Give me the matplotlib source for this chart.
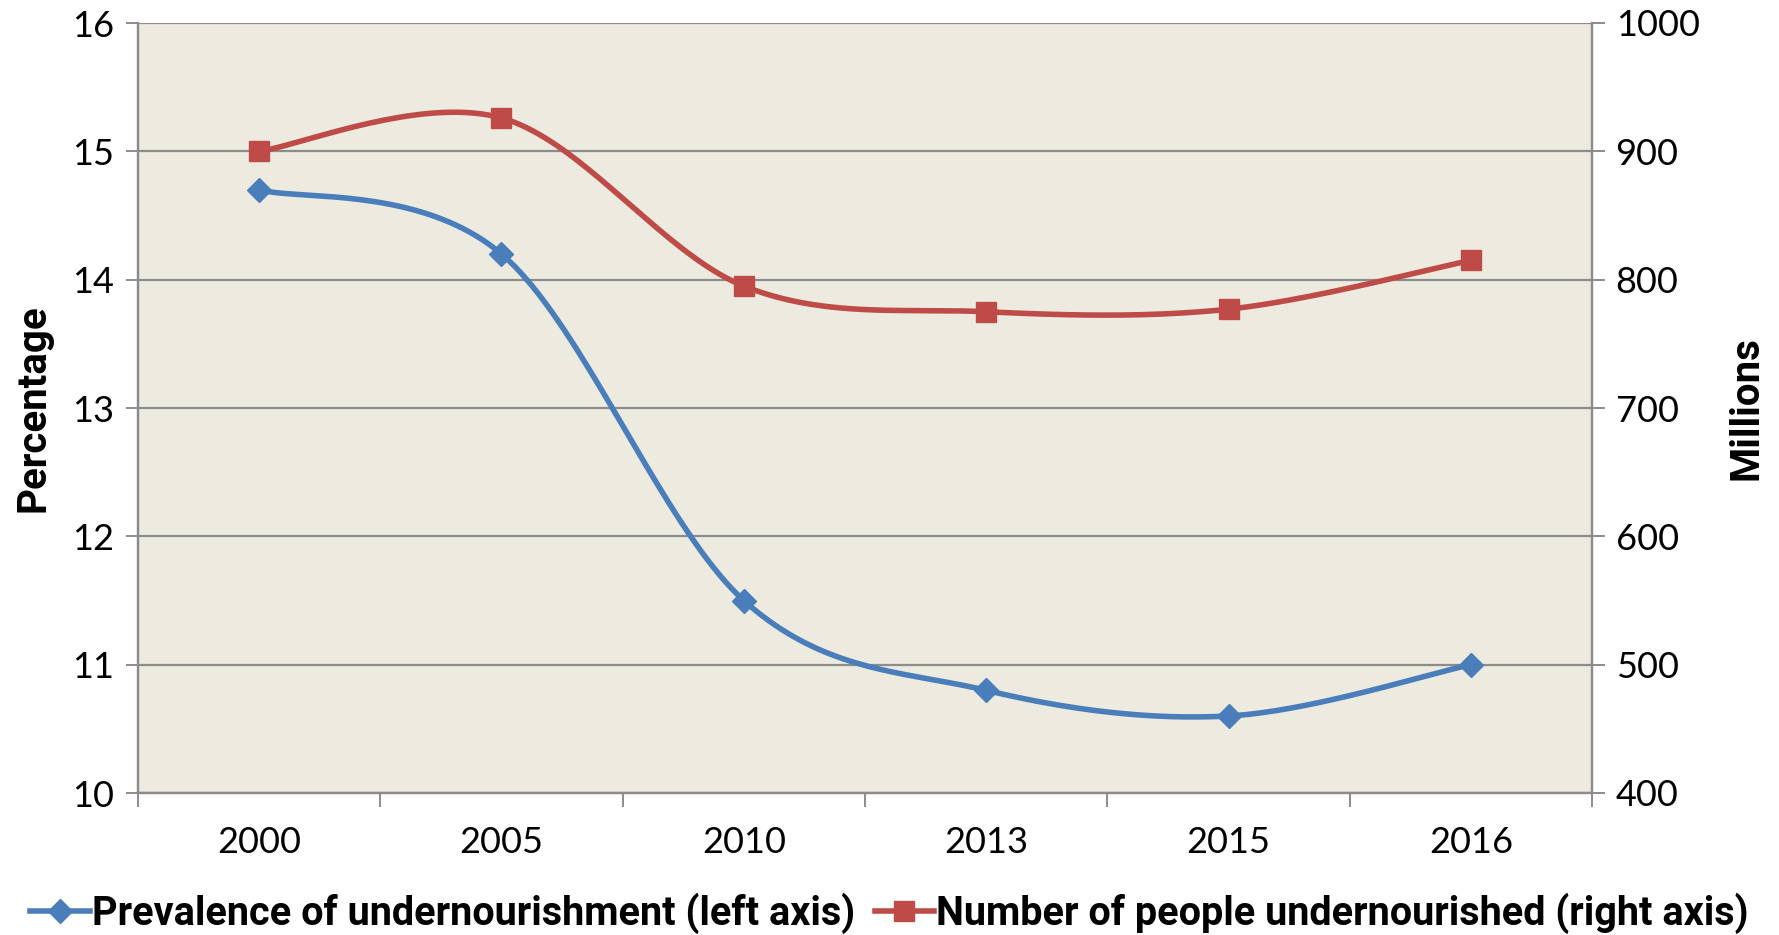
import numpy as np
import matplotlib
matplotlib.use("Agg")
import matplotlib.pyplot as plt
from matplotlib.lines import Line2D

years = ["2000", "2005", "2010", "2013", "2015", "2016"]
prevalence = [14.7, 14.2, 11.5, 10.8, 10.6, 11.0]
undernourished = [900, 926, 795, 775, 777, 815]

blue = "#4A7EBB"
red = "#BE4B48"
grid_col = "#8C8C8C"
bg = "#EDEAE0"

plt.rcParams["font.family"] = ["Lato", "DejaVu Sans"]
bold_font = {"family": ["Roboto", "DejaVu Sans"], "weight": "bold"}


def smooth(xs, ys, n=40):
    # cubic bezier through the points, tangents from neighbours (Excel-like smoothing)
    p = np.column_stack((xs, ys)).astype(float)
    p = np.vstack((p[:1], p, p[-1:]))
    out = []
    for i in range(1, len(p) - 2):
        p0, p3 = p[i], p[i + 1]
        c1 = p0 + (p[i + 1] - p[i - 1]) / 6.0
        c2 = p3 - (p[i + 2] - p[i]) / 6.0
        t = np.linspace(0, 1, n)[:, None]
        seg = ((1 - t) ** 3) * p0 + 3 * ((1 - t) ** 2) * t * c1 + 3 * (1 - t) * t ** 2 * c2 + t ** 3 * p3
        out.append(seg if i == 1 else seg[1:])
    seg = np.vstack(out)
    return seg[:, 0], seg[:, 1]


fig = plt.figure(figsize=(17.79, 9.35), dpi=100)
ax = fig.add_axes([138 / 1779, 1 - 793 / 935, (1592 - 138) / 1779, (793 - 23) / 935])
ax2 = ax.twinx()

x = np.arange(len(years))

ax.set_facecolor(bg)
ax.set_xlim(-0.5, len(years) - 0.5)
ax.set_ylim(10, 16)
ax2.set_ylim(400, 1000)
ax.set_yticks(np.arange(10, 17, 1))
ax2.set_yticks(np.arange(400, 1001, 100))
ax.yaxis.grid(True, color=grid_col, linewidth=1.6)
ax.set_axisbelow(True)

ax.set_xticks(x)
ax.set_xticklabels(years)
ax.set_xticks(np.arange(-0.5, len(years)), minor=True)
ax.tick_params(axis="x", which="major", length=0, pad=24, labelsize=26)
ax.tick_params(axis="x", which="minor", length=10, width=1.4, color=grid_col)
ax.tick_params(axis="y", length=9, width=1.4, color=grid_col, labelsize=26, pad=8)
ax2.tick_params(axis="y", length=9, width=1.4, color=grid_col, labelsize=26, pad=8)

for a in (ax, ax2):
    for s in a.spines.values():
        s.set_color(grid_col)
        s.set_linewidth(1.6)
    a.spines["top"].set_visible(False)

ax.set_ylabel("Percentage", fontsize=29, fontdict=bold_font, labelpad=14)
ax2.set_ylabel("Millions", fontsize=29, fontdict=bold_font, labelpad=20)

sx, sy = smooth(x, prevalence)
ax.plot(sx, sy, color=blue, linewidth=4.0, zorder=3)
ax.plot(x, prevalence, linestyle="none", marker="D", markersize=12.5, color=blue, zorder=4)

rx, ry = smooth(x, undernourished)
ax2.plot(rx, ry, color=red, linewidth=4.0, zorder=3)
ax2.plot(x, undernourished, linestyle="none", marker="s", markersize=14.5, color=red, zorder=4)

handles = [
    Line2D([], [], color=blue, linewidth=4.0, marker="D", markersize=12.5),
    Line2D([], [], color=red, linewidth=4.0, marker="s", markersize=14.5),
]
labels = ["Prevalence of undernourishment (left axis)", "Number of people undernourished (right axis)"]
fig.legend(handles, labels, loc="center", bbox_to_anchor=(0.5, 1 - 913 / 935), ncol=2, frameon=False,
           prop={"family": ["Roboto", "DejaVu Sans"], "size": 28.5, "weight": "bold"},
           handlelength=1.5, handletextpad=0.05, columnspacing=0.5)

fig.savefig("out.png", dpi=100)
